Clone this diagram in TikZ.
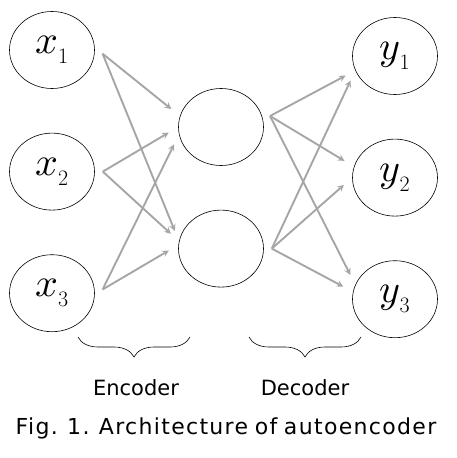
\documentclass[tikz,border=0pt]{standalone}
\usepackage{fontspec}
\usepackage{unicode-math}
\usepackage{tikz}
\usetikzlibrary{shapes.geometric}
\usetikzlibrary{arrows}
\usetikzlibrary{positioning}
\usetikzlibrary{decorations.pathreplacing}
\setmathfont{Latin Modern Math}
\newfontfamily\labelfont{DejaVu Sans}
\newfontfamily\figfont[LetterSpace=6,WordSpace=0.8]{DejaVu Sans}
\definecolor{linkgray}{RGB}{166,166,166}
\newcommand{\unitlabel}[2]{$#1_{\mbox{\fontsize{22}{22}\selectfont #2}}$}
\tikzstyle{unit} = [ellipse, minimum width=85pt, minimum height=77pt, inner sep=0pt, draw=black, line width=0.6pt, font=\fontsize{40}{46}\selectfont]
\tikzstyle{arrow} = [line width=1.9pt, draw=linkgray, ->, >=stealth, shorten >=11pt]
\tikzstyle{bracket} = [decorate, decoration={brace, mirror, amplitude=20pt}, line width=0.6pt]
\tikzstyle{caption} = [font=\labelfont\fontsize{21}{25}\selectfont]

\begin{document}
\begin{tikzpicture}[x=1pt, y=1pt, node distance=44pt]
\useasboundingbox (0,0) rectangle (456,-458);

\node (x1) [unit] at (52,-50) {\unitlabel{x}{1}};
\node (x2) [unit, below= of x1] {\unitlabel{x}{2}};
\node (x3) [unit, below= of x2] {\unitlabel{x}{3}};
\node (h1) [unit] at (221,-127) {};
\node (h2) [unit, below= of h1] {};
\node (y1) [unit] at (395,-56) {\unitlabel{y}{1}};
\node (y2) [unit, below= of y1] {\unitlabel{y}{2}};
\node (y3) [unit, below= of y2] {\unitlabel{y}{3}};

% encoder links
\draw [arrow] ([xshift=8pt]x1.355) -- (h1.165);
\draw [arrow] ([xshift=8pt]x1.355) -- (h2.170);
\draw [arrow] ([xshift=8pt]x2.east) -- (h1.west);
\draw [arrow] ([xshift=8pt]x2.east) -- (h2.170);
\draw [arrow] ([xshift=8pt]x3.5) -- (h1.190);
\draw [arrow] ([xshift=8pt]x3.5) -- (h2.175);

% decoder links
\draw [arrow] ([xshift=8pt]h1.15) -- (y1.200);
\draw [arrow] ([xshift=8pt]h1.15) -- (y2.165);
\draw [arrow] ([xshift=8pt]h1.15) -- (y3.160);
\draw [arrow] ([xshift=8pt]h2.east) -- (y1.200);
\draw [arrow] ([xshift=8pt]h2.east) -- (y2.west);
\draw [arrow] ([xshift=8pt]h2.east) -- (y3.170);

\coordinate (encleft) at (78,-337);
\coordinate (encright) at (190,-337);
\coordinate (decleft) at (249,-337);
\coordinate (decright) at (361,-337);
\draw [bracket] (encleft) -- (encright);
\draw [bracket] (decleft) -- (decright);

\node (enc) [caption] at (136,-388) {Encoder};
\node (dec) [caption] at (305,-388) {Decoder};
\node (fig) [caption, font=\figfont\fontsize{22}{26}\selectfont] at (226,-428) {Fig. 1. Architecture of autoencoder};

\end{tikzpicture}
\end{document}
